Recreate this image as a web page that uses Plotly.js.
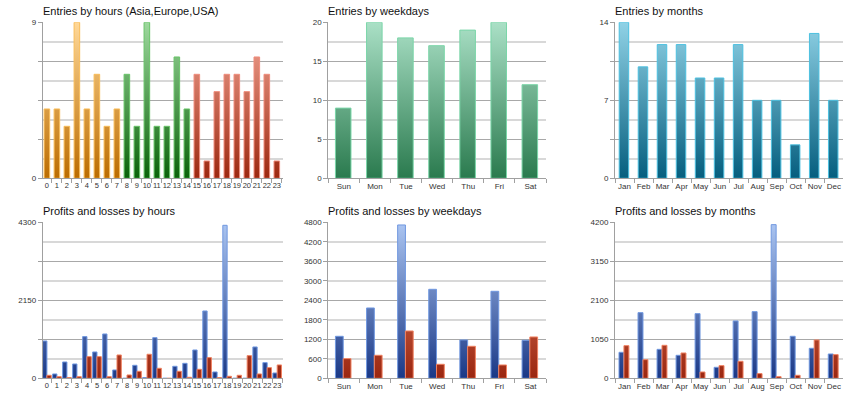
<!DOCTYPE html>
<html>
<head>
<meta charset="utf-8">
<script src="https://cdn.plot.ly/plotly-3.0.1.min.js"></script>
<style>
html,body{margin:0;padding:0;background:#fff;}
#chart{width:860px;height:400px;}
</style>
</head>
<body>
<div id="chart"></div>
<script>
// ---------- DATA ----------
const hours = ['0','1','2','3','4','5','6','7','8','9','10','11','12','13','14','15','16','17','18','19','20','21','22','23'];
const hourSession = ['Asia','Asia','Asia','Asia','Asia','Asia','Asia','Asia',
  'Europe','Europe','Europe','Europe','Europe','Europe','Europe',
  'USA','USA','USA','USA','USA','USA','USA','USA','USA'];
const entriesHours = [4,4,3,9,4,6,3,4,6,3,9,3,3,7,4,6,1,5,6,6,5,7,6,1];

const weekdays = ['Sun','Mon','Tue','Wed','Thu','Fri','Sat'];
const entriesWeekdays = [9,20,18,17,19,20,12];

const months = ['Jan','Feb','Mar','Apr','May','Jun','Jul','Aug','Sep','Oct','Nov','Dec'];
const entriesMonths = [14,10,12,12,9,9,12,7,7,3,13,7];

const profitsHours = [1029,120,450,395,1149,726,1222,230,0,358,20,1121,0,331,413,781,1856,175,4217,0,0,864,432,147];
const lossesHours  = [83,46,20,46,597,597,46,643,92,193,662,276,0,193,28,248,570,20,55,83,625,120,294,368];

const profitsWeekdays = [1292,2164,4718,2738,1180,2677,1169];
const lossesWeekdays  = [605,708,1456,431,985,410,1272];

const profitsMonths = [700,1768,780,619,1741,296,1544,1795,4137,1131,808,655];
const lossesMonths  = [879,502,888,682,170,341,458,126,45,81,1032,637];

const titles = ['Entries by hours (Asia,Europe,USA)','Entries by weekdays','Entries by months',
  'Profits and losses by hours','Profits and losses by weekdays','Profits and losses by months'];
const yMax = [9,20,14,4300,4800,4200];
const yLabelEvery = [4,1,2,2,1,1]; // label every n-th dark line (dark lines at quarters)

// ---------- STYLES ----------
const palette = {
  Asia:   {fill:'#e0962a', line:'#f8bc58', top:'#ffd898', bottom:'#bb6c00'},
  Europe: {fill:'#3e9a3e', line:'#68c468', top:'#9ed89e', bottom:'#0a620a'},
  USA:    {fill:'#cc5a45', line:'#f08c7c', top:'#f6ab9a', bottom:'#9c2810'},
  week:   {fill:'#5aa87a', line:'#7ad6a8', top:'#aae0c6', bottom:'#2a7a4e'},
  month:  {fill:'#3a95b0', line:'#4cc0e0', top:'#90d2e6', bottom:'#055e7e'},
  profit: {fill:'#4a6ab0', line:'#7098e0', top:'#acc6f2', bottom:'#1a3886'},
  loss:   {fill:'#b83a20', line:'#f08262', top:'#f09070', bottom:'#9a2610'}
};

const W = 860, H = 400;
const colX = [[42.7,283],[328.3,546],[615,843.3]];
const rowY = [[22.3,178.3],[222.3,378.3]];
const fontFam = '"Liberation Sans", Arial, sans-serif';

const traces = [];
// top-left hours
traces.push({type:'bar', x:hours, y:entriesHours, xaxis:'x', yaxis:'y',
  width:0.56, offset:-0.28,
  marker:{color:hourSession.map(s=>palette[s].fill), line:{color:hourSession.map(s=>palette[s].line), width:1}},
  showlegend:false});
// top-middle weekdays
traces.push({type:'bar', x:weekdays, y:entriesWeekdays, xaxis:'x2', yaxis:'y2',
  width:0.5, offset:-0.27,
  marker:{color:palette.week.fill, line:{color:palette.week.line, width:1}}, showlegend:false});
// top-right months
traces.push({type:'bar', x:months, y:entriesMonths, xaxis:'x3', yaxis:'y3',
  width:0.5, offset:-0.28,
  marker:{color:palette.month.fill, line:{color:palette.month.line, width:1}}, showlegend:false});
// bottom-left hours P/L
traces.push({type:'bar', x:hours, y:profitsHours, xaxis:'x4', yaxis:'y4', name:'Profits',
  width:0.43, offset:-0.43,
  marker:{color:palette.profit.fill, line:{color:palette.profit.line, width:1}}, showlegend:false});
traces.push({type:'bar', x:hours, y:lossesHours, xaxis:'x4', yaxis:'y4', name:'Losses',
  width:0.43, offset:0,
  marker:{color:palette.loss.fill, line:{color:palette.loss.line, width:1}}, showlegend:false});
// bottom-middle weekdays P/L
traces.push({type:'bar', x:weekdays, y:profitsWeekdays, xaxis:'x5', yaxis:'y5', name:'Profits',
  width:0.25, offset:-0.27,
  marker:{color:palette.profit.fill, line:{color:palette.profit.line, width:1}}, showlegend:false});
traces.push({type:'bar', x:weekdays, y:lossesWeekdays, xaxis:'x5', yaxis:'y5', name:'Losses',
  width:0.25, offset:-0.02,
  marker:{color:palette.loss.fill, line:{color:palette.loss.line, width:1}}, showlegend:false});
// bottom-right months P/L
traces.push({type:'bar', x:months, y:profitsMonths, xaxis:'x6', yaxis:'y6', name:'Profits',
  width:0.26, offset:-0.29,
  marker:{color:palette.profit.fill, line:{color:palette.profit.line, width:1}}, showlegend:false});
traces.push({type:'bar', x:months, y:lossesMonths, xaxis:'x6', yaxis:'y6', name:'Losses',
  width:0.26, offset:-0.03,
  marker:{color:palette.loss.fill, line:{color:palette.loss.line, width:1}}, showlegend:false});
// empty trace for odd label axis on bottom-middle
traces.push({type:'scatter', x:[], y:[], xaxis:'x5', yaxis:'y7', showlegend:false, hoverinfo:'skip'});

const layout = {
  width:W, height:H, margin:{l:0,r:0,t:0,b:0},
  paper_bgcolor:'#fff', plot_bgcolor:'#fff',
  font:{family:fontFam, size:8, color:'#333'},
  barmode:'group', showlegend:false,
  annotations:[]
};

const xRanges = [[-0.42,23.62],[-0.5,6.5],[-0.5,11.5],[-0.42,23.58],[-0.5,6.5],[-0.5,11.5]];

for (let i=0;i<6;i++){
  const r = Math.floor(i/3), c = i%3;
  const sfx = i===0 ? '' : String(i+1);
  const xd = [colX[c][0]/W, colX[c][1]/W];
  const yd = [1-rowY[r][1]/H, 1-rowY[r][0]/H];
  const step = yMax[i]/8;
  const majorVals = [0,1,2,3,4].map(k=>k*2*step);
  const majorText = majorVals.map((v,k)=> (k % yLabelEvery[i] === 0) ? String(Math.round(v)) : '');
  layout['xaxis'+sfx] = {
    domain:xd, anchor:'y'+sfx, type:'category', range:xRanges[i],
    showgrid:false, zeroline:false, showline:true, linecolor:'#a0a0a0', linewidth:1,
    ticks:'outside', ticklen:4, tickcolor:'#a0a0a0', tickson:'boundaries',
    tickangle:0, tickfont:{size:(c===0?7.5:8), color:'#333', family:fontFam},
    fixedrange:true
  };
  layout['yaxis'+sfx] = {
    domain:yd, anchor:'x'+sfx, range:[0,yMax[i]],
    tickmode:'array', tickvals:majorVals, ticktext:majorText,
    showgrid:true, gridcolor:'#a8a8a8', gridwidth:1,
    minor:{tickmode:'linear', tick0:step, dtick:2*step, showgrid:true, gridcolor:'#d8d8d8', gridwidth:2, ticks:''},
    zeroline:false, showline:true, linecolor:'#a0a0a0', linewidth:1,
    ticks:'outside', ticklen:4, tickcolor:'#a0a0a0',
    tickfont:{size:8, color:'#333', family:fontFam}, fixedrange:true
  };
  layout.annotations.push({
    text:titles[i], xref:'paper', yref:'paper',
    x:(colX[c][0]-2)/W, y:1-(rowY[r][0]-11)/H, xanchor:'left', yanchor:'middle',
    showarrow:false, font:{family:fontFam, size:11, color:'#111'}
  });
}
// overlay axis for odd labels on the weekdays P/L chart
(function(){
  const step = yMax[4]/8;
  const vals = [1,3,5,7].map(k=>k*step);
  layout.yaxis7 = {
    overlaying:'y5', anchor:'x5', side:'left', range:[0,yMax[4]],
    tickmode:'array', tickvals:vals, ticktext:vals.map(v=>String(Math.round(v))),
    showgrid:false, zeroline:false, showline:false,
    ticks:'outside', ticklen:4, tickcolor:'#a0a0a0',
    tickfont:{size:8, color:'#333', family:fontFam}, fixedrange:true
  };
})();

function hexToRgb(h){
  const n = parseInt(h.slice(1),16);
  return [(n>>16)&255,(n>>8)&255,n&255].join(',');
}

function applyGradients(gd){
  const svg = gd.querySelector('svg.main-svg');
  if(!svg) return;
  const ns = 'http://www.w3.org/2000/svg';
  let defs = svg.querySelector('defs');
  if(!defs){ defs = document.createElementNS(ns,'defs'); svg.insertBefore(defs, svg.firstChild); }
  const h = gd._fullLayout.yaxis._length;
  const map = {};
  Object.keys(palette).forEach(k=>{
    const p = palette[k];
    const id = 'grad-'+k;
    const g = document.createElementNS(ns,'linearGradient');
    g.setAttribute('id',id);
    g.setAttribute('gradientUnits','userSpaceOnUse');
    g.setAttribute('x1','0'); g.setAttribute('x2','0');
    g.setAttribute('y1','0'); g.setAttribute('y2',String(h));
    [[0,p.top],[1,p.bottom]].forEach(([o,c])=>{
      const s = document.createElementNS(ns,'stop');
      s.setAttribute('offset',String(o));
      s.setAttribute('stop-color',c);
      g.appendChild(s);
    });
    defs.appendChild(g);
    map[hexToRgb(p.fill)] = id;
  });
  gd.querySelectorAll('.barlayer .point path').forEach(path=>{
    const f = path.style.fill || '';
    const m = f.match(/(\d+),\s*(\d+),\s*(\d+)/);
    if(!m) return;
    const key = [m[1],m[2],m[3]].join(',');
    if(map[key]) path.style.fill = 'url(#'+map[key]+')';
  });
}

const gd = document.getElementById('chart');
Plotly.newPlot(gd, traces, layout, {staticPlot:true, displayModeBar:false}).then(applyGradients);
</script>
</body>
</html>
